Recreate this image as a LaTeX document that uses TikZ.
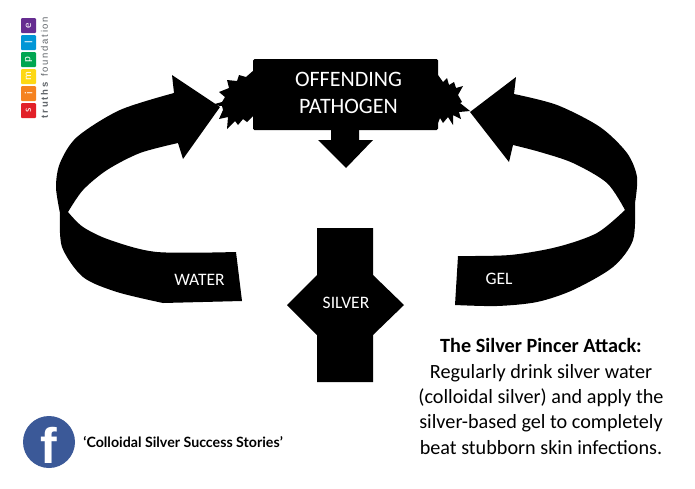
\documentclass[tikz,border=0pt]{standalone}
\usepackage{fontspec}
\setmainfont{Carlito}
\newfontfamily\storyfont{Lato}
\newfontfamily\logofont[LetterSpace=18]{Liberation Sans}
\newfontfamily\fbfont{Liberation Sans}
\usetikzlibrary{positioning}
\definecolor{fbblue}{RGB}{59,89,152}
\definecolor{logogrey}{RGB}{95,100,105}
\definecolor{tilered}{RGB}{226,32,40}
\definecolor{tileorange}{RGB}{245,130,32}
\definecolor{tileyellow}{RGB}{253,216,20}
\definecolor{tilegreen}{RGB}{0,166,81}
\definecolor{tileblue}{RGB}{0,150,214}
\definecolor{tilepurple}{RGB}{102,45,145}
\tikzset{
  black shape/.style = {fill = black, draw = none},
  white label/.style = {text = white, font = \fontsize{17.5}{17.5}\selectfont, inner sep = 0pt},
  logo tile/.style = {shape = rectangle, rounded corners = 1pt, minimum width = 15pt, minimum height = 15pt, inner sep = 0pt, text = white, font = \fontsize{11}{11}\selectfont, rotate = 90},
  note text/.style = {text = black, align = center, inner sep = 0pt, font = \fontsize{20.2}{25.3}\selectfont}
}
\begin{document}
\begin{tikzpicture}[x=1pt,y=-1pt]
\useasboundingbox (0,0) rectangle (695,488);
\fill[white] (0,0) rectangle (695,488);

% logo
\foreach \ypos/\tilecol/\letter in {110.5/tilered/s,93.5/tileorange/i,76.5/tileyellow/m,59.5/tilegreen/p,42.5/tileblue/l,25.5/tilepurple/e}
  { \node[logo tile, fill = \tilecol] (tile\letter) at (28.5,\ypos) {\letter}; }
\node[rotate = 90, text = logogrey, inner sep = 0pt, font = \logofont\fontsize{9.5}{9.5}\selectfont] (logotext) at (44.5,67.5) {\textbf{truths} foundation};

% left arrow
\path[black shape] (220,107) -- (172,75) -- (174,93)
  -- plot[smooth] coordinates {(174,93) (120,110) (77,137) (60,163) (56,187) (60,213)}
  -- plot[smooth] coordinates {(60,213) (62,247) (83,277) (117,292) (163,303)}
  -- (242,301) -- (236,252)
  -- plot[smooth] coordinates {(236,252) (157,252) (110,240) (83,227) (68,212)}
  -- plot[smooth] coordinates {(68,212) (83,190) (107,170) (140,153) (178,143)}
  -- (183,159) -- cycle;
% right arrow
\path[black shape] (470,112) -- (516,77) -- (514,94)
  -- plot[smooth] coordinates {(514,94) (557,105) (600,127) (627,153) (637,177) (635,203)}
  -- plot[smooth] coordinates {(635,203) (633,240) (613,267) (573,290) (537,302) (497,306) (455,305)}
  -- (458,256)
  -- plot[smooth] coordinates {(458,256) (510,255) (557,247) (597,233) (625,210)}
  -- plot[smooth] coordinates {(625,210) (607,183) (573,163) (540,152) (513,145)}
  -- (509,162) -- cycle;

% spikes beside the box
\path[black shape] (254,70) -- (246,77) -- (239,75) -- (237,81) -- (227,80) -- (229,88) -- (219,92) -- (225,97) -- (222,102) -- (211,105) -- (222,106) -- (223,110) -- (219,119) -- (228,117) -- (227,129) -- (235,121) -- (238,125) -- (243,119) -- (247,122) -- (254,115) -- cycle;
\path[black shape] (430,70) -- (438,75) -- (443,82) -- (447,78) -- (449,85) -- (454,82) -- (456,88) -- (463,86) -- (458,95) -- (462,102) -- (460,103) -- (470,111) -- (459,112) -- (461,119) -- (453,115) -- (453,125) -- (448,117) -- (443,123) -- (440,118) -- (438,123) -- (430,127) -- cycle;

\node[black shape, shape = rectangle, rounded corners = 1.5pt, minimum width = 185pt, minimum height = 71pt, inner sep = 0pt] (pathogen) at (345.5,94.5) {};
\node[inner sep = 0pt, align = center, text = white, font = \fontsize{22}{27}\selectfont] (pathogentext) at (348.5,93) {OFFENDING \\ PATHOGEN};
\path[black shape] (331,129) -- (331,140) -- (318,140) -- (346,168) -- (373,140) -- (359,140) -- (359,129) -- cycle;

% silver
\path[black shape] (317,228) -- (373,228) -- (373,275) -- (404,305) -- (373,335) -- (373,382) -- (317,382) -- (317,335) -- (287,305) -- (317,275) -- cycle;

\node[white label] (silver) at (346,302.5) {SILVER};
\node[white label] (water) at (199.5,279.5) {WATER};
\node[white label] (gel) at (499,278.5) {GEL};

% text
\node[note text] (note) at (541,396.5) {\textbf{The Silver Pincer Attack:} \\ Regularly drink silver water \\ (colloidal silver) and apply the \\ silver-based gel to completely \\ beat stubborn skin infections.};

% facebook
\node[circle, fill = fbblue, minimum size = 52pt, inner sep = 0pt] (fbcircle) at (49,442) {};
\node[text = white, inner sep = 0pt, font = \fbfont\bfseries\fontsize{50}{50}\selectfont] (fbletter) at (49,445) {f};
\node[right = 8pt of fbcircle, inner sep = 0pt, font = \storyfont\bfseries\fontsize{14.2}{14.2}\selectfont] (stories) {‘Colloidal Silver Success Stories’};
\end{tikzpicture}
\end{document}
